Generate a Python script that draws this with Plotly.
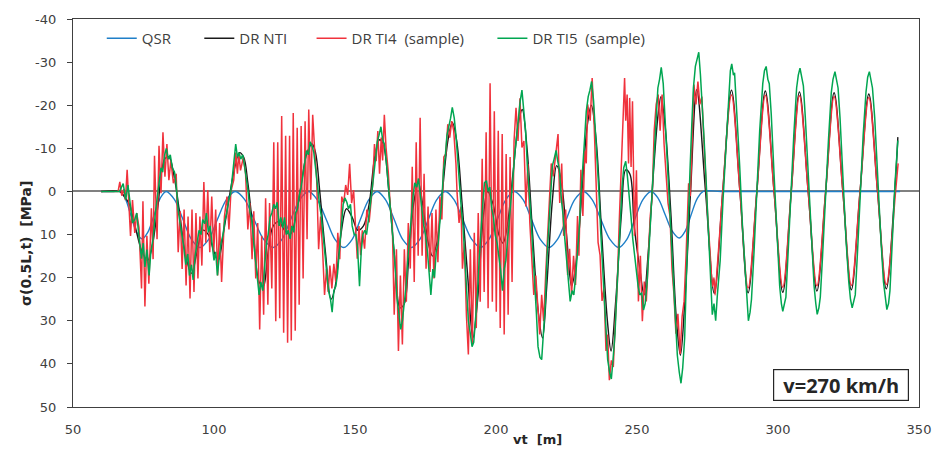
import plotly.graph_objects as go

# ---------------- data ----------------
qsr_x = [60, 64, 66.5, 68.5, 70.5, 72.5, 74.5, 76.6, 78.75, 80.9, 83,
         86, 89, 92, 95, 98.1, 101.2, 104.4, 107.5,
         110.9, 114.2, 117.6, 121, 124.1, 127.2, 130.4, 133.5,
         136.6, 139.8, 142.9, 146, 149, 151.9, 154.9, 157.8,
         160.8, 163.9, 166.9, 170, 173, 176, 179, 182,
         185.1, 188.2, 191.4, 194.5, 197.5, 200.5, 203.5, 206.5,
         209.6, 212.6, 215.7, 218.8, 221.8, 224.9, 227.9, 231,
         234.1, 237.2, 240.4, 243.5, 246.4, 249.2, 252.1, 255,
         257.5, 260, 262.5, 265, 267.1, 269.2, 271.4, 273.5, 280, 343.3]
qsr_y = [0, 0, 0, 1.6, 5.5, 9.4, 11, 9.4, 5.5, 1.6, 0,
         1.9, 6.5, 11.1, 13, 11.1, 6.5, 1.9, 0,
         1.9, 6.5, 11.1, 13, 11.1, 6.5, 1.9, 0,
         1.9, 6.5, 11.1, 13, 11.1, 6.5, 1.9, 0,
         1.9, 6.5, 11.1, 13, 11.1, 6.5, 1.9, 0,
         1.9, 6.5, 11.1, 13, 11.1, 6.5, 1.9, 0,
         1.9, 6.5, 11.1, 13, 11.1, 6.5, 1.9, 0,
         1.9, 6.5, 11.1, 13, 11.1, 6.5, 1.9, 0,
         1.6, 5.4, 9.2, 10.8, 9.2, 5.4, 1.6, 0, 0, 0]

nti_x = [60, 66.5, 68, 70, 72, 74.5, 76.5, 78, 80, 82.5, 84, 86, 88, 90, 92, 94,
         96, 98, 100, 101.5, 103.5, 105.5, 107.5, 109, 110.5, 112, 114, 116,
         117.5, 119, 121, 123, 125, 127, 129, 131, 133, 134.8, 136, 137.5,
         139.5, 141.5, 143, 145, 147, 149, 151, 153, 155, 157, 158.7, 160,
         162, 164, 166, 167.5, 169, 171, 172.5, 174, 176, 177.5, 179, 181,
         183, 184.5, 186, 188, 190, 191.8, 193.5, 195.5, 197, 199, 201,
         202.5, 204, 206, 208, 209.3, 211, 213, 215, 216.5, 218, 220, 221.5,
         223, 225, 226.8, 228.5, 230.5, 232.3, 233.8, 235.5, 237.5, 239.5,
         240.8, 242.5, 244.5, 246, 247.5, 249, 251, 252.5, 254, 256, 257.5,
         258.5, 260, 262, 264, 265.4, 267, 269, 271.2, 274.3, 277.4, 280.4,
         283.5, 286.5, 289.4, 292.5, 295.5, 298.6, 301.7, 304.7, 307.6,
         310.7, 313.8, 316.9, 319.9, 323, 326, 329.1, 332.2, 335.3, 338.4,
         341.4, 342.5]
nti_y = [0, 0, 1, 3, 8, 14, 16, 13, 4, -7.5, -8, -3, 6, 15, 19, 14,
         9, 10, 14, 16, 9, 1, -6, -9, -8, -2, 10, 21,
         22, 15, 8, 7, 9, 10, 6, -2, -9, -11, -9, 0,
         14, 25, 22, 10, 4, 6, 9, 8, 3, -8, -12, -11,
         0, 15, 27, 26, 16, 2, -2, 3, 12, 15, 12, 0,
         -12, -16, -12, 3, 20, 34, 25, 6, 0, 3, 10,
         12, 8, -4, -16, -19, -10, 10, 28, 34, 22, 2, -6,
         -3, 10, 22, 16, 0, -15, -20, -12, 10, 30,
         37, 25, 5, -5, -4, 8, 18, 24, 14, -6, -18,
         -22, -15, 5, 30, 38, 25, 0, -23.6, 0, 23.6, 0,
         -23.5, 0, 23.5, 0, -23.3, 0, 23.4, 0, -23.1,
         0, 23.1, 0, -22.9, 0, 22.8, 0, -22.6, 0, 22.6,
         0, -12.6]

# DR TI4 (sample): spiky part
ti4_x = [60, 66, 66.6, 67.3, 68.0, 68.6, 69.2, 69.9, 70.4, 71.1, 71.9, 72.6, 73.4,
         74.3, 74.8, 75.5, 76.2, 76.9, 77.8, 78.4, 78.9, 79.8, 80.5, 81.2, 81.9,
         82.6, 83.3, 84.0, 84.7, 85.6, 86.6, 87.3, 88.0, 88.7, 89.4, 90.1, 90.8,
         91.5, 92.2, 92.9, 93.6, 94.3, 95.0, 95.7, 96.4, 97.1, 97.8, 98.5, 99.2,
         99.9, 100.6, 101.3, 102.0, 102.7, 103.7, 104.6, 105.3, 106.0, 107.0,
         107.7, 108.3, 108.8, 109.4, 110.4, 111.2, 112.0, 112.7, 113.5, 114.1,
         114.8, 115.5, 116.2, 116.9, 117.6, 118.3, 119.1, 119.7, 120.5, 121.2,
         121.9, 122.6, 123.3, 124.0, 124.7, 125.4, 126.1, 126.8, 127.4, 128.1,
         128.8, 129.5, 130.2, 130.9, 131.6, 132.3, 133.0, 133.6, 134.3, 135.0,
         135.7, 136.4, 137.1, 137.8, 138.5, 139.2, 139.9, 140.5, 141.1, 141.8,
         142.5, 143.2, 143.9, 144.6, 145.3, 146.0, 146.7, 147.4, 148.1, 148.8,
         149.5, 150.2, 150.8, 151.4, 152.0, 152.6, 153.4, 154.2, 155.0, 155.6,
         156.3, 156.9, 157.5, 158.1, 158.7, 159.3, 159.8, 160.4, 161.0, 161.8,
         162.5, 163.2, 163.9, 164.7, 165.4, 166.1, 166.8, 167.5, 168.2, 168.9,
         169.6, 170.3, 171.0, 171.7, 172.4, 173.1, 173.8, 174.5, 175.2, 175.9,
         176.6, 177.3, 178.0, 178.7, 179.4, 180.1, 180.8, 181.5, 182.2, 182.9,
         183.6, 184.3, 185.0, 185.8, 186.2, 186.9, 187.6, 188.1, 188.8, 189.5,
         190.2, 190.9, 191.6, 192.3, 193.0, 193.7, 194.4, 195.1, 195.8, 196.5,
         197.2, 197.9, 198.7, 199.4, 200.1, 200.8, 201.5, 202.2, 202.9, 203.6,
         204.3, 205.0, 205.7, 206.4, 207.1, 207.8, 208.5, 209.2, 209.9, 210.6,
         211.3, 212.0, 212.7, 213.4, 214.1, 214.8, 215.5, 216.2, 216.9, 217.6,
         218.4, 219.6, 220.3, 221.2, 222.0, 222.6, 223.3, 224.0, 224.7, 225.4,
         226.1, 226.8, 227.5, 228.2, 228.9, 229.4, 230.1, 230.8, 231.5, 232.0,
         232.5, 233.4, 234.1, 234.8, 235.5, 236.2, 236.9, 237.6, 238.3, 239.0,
         239.6, 240.2, 240.9, 241.6, 242.3, 243.0, 243.7, 244.4, 245.1, 245.6,
         246.0, 246.5, 247.0, 247.4, 247.9, 248.4, 249.1, 249.8, 250.5, 251.2,
         251.9, 252.6, 253.3, 254.0, 254.7, 255.4, 256.1, 256.8, 257.5, 258.2,
         258.9, 259.6, 260.3, 261.0, 261.7, 262.4, 263.1, 263.8, 264.5, 265.3,
         266.0, 266.7, 267.4, 268.3, 268.9, 269.5, 270.2, 270.9, 271.6, 272.3,
         273.0, 273.7]
ti4_y = [0, 0, -2.2, 1.0, -0.5, 2.0, -5.0, 2.7, 10.3, 2.0, 9.6, 5.0, 8.4,
         22.5, 2.3, 26.7, 10.3, 21.4, 3.9, 15.7, -8.3, 11.1, -10.6, 0.4, -13.7,
         -3.4, -11.0, -2.6, -7.2, -1.9, -4.1, 14.1, 4.6, 18.0, 4.2, 21.8, 5.8,
         24.8, 4.2, 23.3, 5.0, 20.2, 5.8, 17.2, -2.2, 11.9, -0.3, 14.1, 1.2,
         14.1, 4.2, 19.5, 7.3, 21.0, 5.8, 1.2, 8.8, 0.0, -2.6,
         -9.0, -4.1, -8.7, -4.9, -7.9, -4.1, 8.8, 2.7, 15.7, 4.6,
         20.2, 7.3, 32.0, 10.3, 28.6, 1.6, 26.3, 2.7, 22.5, -11.4,
         30.1, -11.4, 29.4, -17.5, 32.8, -12.9, 35.1, -12.9, 34.6, -18.2,
         32.3, -14.8, 26.3, -15.2, 20.2, -16.3, 11.1, -19.0, 1.9, -17.8,
         -9.5, -3.0, 13.4, 5.8, 13.4, 24.0, 18.0, 23.3, 17.2, 22.5,
         16.8, 21.0, 9.6, 15.7, 1.2, 2.7, -1.5, 0.8, -6.4, 2.7,
         -0.3, 8.0, 15.6, 8.0, 14.8, 9.0, 13.3, 4.2, 7.2, 3.0,
         -1.9, -11.0, -7.0, -14.0, -4.1, -12.5, -7.2, -17.8, -10.2, -4.5,
         3.5, 6.5, 28.6, 13.4, 37.0, 19.5, 35.5, 13.4, 25.6, 7.3,
         17.9, -5.7, 21.0, -11.4, 14.9, -17.1, 14.9, -4.1, 17.9, 3.5,
         18.7, 5.0, 20.2, 4.2, 16.4, 1.2, 6.5, -8.0, -8.7, -15.6,
         -12.5, -16.3, -14.1, -6.4, 0.4, 7.3, 3.5, 17.9, 11.9, 28.6,
         37.8, 13.4, 35.5, 9.6, 31.7, 5.0, 25.6, -7.6, 23.3, -13.7,
         27.1, -25.1, 25.6, -18.6, 27.9, -14.1, 31.7, -13.3, 33.2, -8.7,
         28.6, -8.0, 21.0, -11.7, -19.4, -11.7, -21.6, -10.2, -11.7, 3.5,
         -6.4, 7.3, 16.4, 24.0, 19.5, 27.9, 33.2, 24.0, 30.1, 19.5,
         10.0, -6.5, -3.5, -8.8, -13.3, 2.7, -6.5, 10.3, 4.2, 19.4,
         13.3, 24.0, 14.9, 21.7, 5.7, 14.9, -5.0, 5.7, -9.5, -6.5,
         -20.2, -16.4, -26.3, -15.6, -1.1, 11.8, 14.8, 25.4, 22.5, 37.0,
         33.2, 43.8, 39.2, 40.7, 30.1, 21.7, 7.2, -6.5, -18.7, -26.3,
         -16.4, -22.5, -6.5, -21.7, -5.7, -20.9, 10.3, -4.9, 25.5, 14.9,
         30.1, 20.9, 25.5, 14.9, 5.7, 1.1, -14.1, -20.2, -22.5, -14.1,
         -22.5, -11.0, -5.0, 2.7, 5.7, 17.9, 23.9, 33.0, 28.4, 37.7,
         29.0, 25.5, 14.9, -1.9, 1.1, -11.0, -24.8, -20.2, -25.5, -20.2,
         -22.0, -12.0]

# DR TI4 (sample): smooth tail
ti4_tail_x = [273.7, 275.0, 276.0, 276.8, 277.3, 277.7, 278.3, 279.3, 280.4,
              283.5, 286.5, 289.4, 292.5, 295.5, 298.6, 301.7, 304.7, 307.6,
              310.7, 313.8, 316.9, 319.9, 323.0, 326.0, 329.1, 332.2, 335.3,
              338.4, 341.7, 342.6]
ti4_tail_y = [-12.0, 5.0, 15.0, 22.0, 20.0, 24.0, 19.0, 10.0, 0.0,
              -22.4, 0.0, 22.4, 0.0, -22.3, 0.0, 22.2, 0.0, -22.2,
              0.0, 21.9, 0.0, -22.0, 0.0, 21.8, 0.0, -21.8, 0.0,
              21.6, 0.0, -6.5]

ti5_x = [60, 66.5, 67.2, 67.8, 68.7, 69.5, 70.4, 71.1, 71.9, 72.6, 73.3, 74.3,
         74.9, 75.5, 76.2, 77, 77.6, 78.4, 79.2, 79.8, 80.5, 81.2, 81.8, 82.5,
         83.1, 83.8, 84.5, 85.2, 86, 86.6, 87.3, 87.9, 88.6, 89.3, 90, 90.7,
         91.3, 92, 92.6, 93.3, 94, 94.7, 95.4, 96, 96.7, 97.3, 98, 98.6, 99.3,
         100, 100.6, 101.2, 101.9, 102.5, 103.2, 103.8, 104.5, 105.2, 105.9,
         106.5, 107.1, 107.7, 108.3, 108.9, 109.5, 110.2, 110.8, 111.5, 112.1,
         112.8, 113.5, 114.1, 114.8, 115.4, 116, 116.6, 117.3, 117.9, 118.6,
         119.2, 119.9, 120.5, 121.2, 121.8, 122.4, 123.1, 123.7, 124.4, 125,
         125.7, 126.3, 127, 127.6, 128.3, 128.9, 129.6, 130.2, 130.9, 131.5,
         132.2, 132.8, 133.5, 134.1, 134.8, 135.4, 136.1, 136.7, 137.4, 138,
         138.7, 139.3, 140, 140.6, 141.3, 141.9, 142.5, 143.2, 143.8, 144.5,
         145.1, 145.8, 146.4, 147.1, 147.7, 148.4, 149, 149.7, 150.3, 150.9,
         151.6, 152.2, 152.8, 153.5, 154.1, 154.7, 155.4, 156, 156.6, 157.3,
         157.9, 158.5, 159.2, 159.8, 160.4, 161.1, 161.7, 162.4, 163, 163.6,
         164.3, 164.9, 165.5, 166.2, 166.8, 167.4, 168.1, 168.7, 169.3, 170,
         170.6, 171.2, 171.9, 172.5, 173.1, 173.8, 174.4, 175, 175.7, 176.3,
         176.9, 177.6, 178.2, 178.8, 179.5, 180.1, 180.7, 181.4, 182, 182.6,
         183.3, 183.9, 184.5, 185.2, 185.8, 186.4, 187.1, 187.7, 188.3, 189,
         189.6, 190.2, 190.9, 191.5, 192.1, 192.8, 193.4, 194, 194.7, 195.3,
         195.9, 196.6, 197.2, 197.8, 198.5, 199.1, 199.7, 200.4, 201, 201.6,
         202.3, 202.9, 203.5, 204.2, 204.8, 205.4, 206.1, 206.7, 207.3, 208,
         208.6, 209.2, 209.9, 210.5, 211.1, 211.8, 212.4, 213, 213.7, 214.3,
         214.9, 215.6, 216.2, 216.8, 217.5, 218.1, 218.7, 219.4, 220, 220.6,
         221.3, 221.9, 222.5, 223.2, 223.8, 224.4, 225.1, 225.7, 226.3, 227,
         227.6, 228.2, 228.9, 229.5, 230.1, 230.8, 231.4, 232, 232.7, 233.3,
         233.9, 234.6, 235.2, 235.8, 236.5, 237.1, 237.7, 238.4, 239, 239.6,
         240.3, 240.9, 241.5, 242.2, 242.8, 243.4, 244.1, 244.7, 245.3, 246,
         246.6, 247.2, 247.9, 248.5, 249.1, 249.8, 250.4, 251, 251.7, 252.3,
         252.9, 253.6, 254.2, 254.8, 255.5, 256.1, 256.7, 257.4, 258, 258.6,
         259.3, 259.9, 260.5, 261.2, 261.8, 262.4, 263.1, 263.7, 264.3, 265,
         265.6, 266.2, 266.9, 267.5, 268.1, 268.8, 269.4, 270, 270.7, 271.3,
         271.9, 272.5, 273.2, 273.8, 274.4, 275.1, 275.7, 276.3, 276.7, 277.3,
         277.9, 278.5, 279.5, 280.5, 281.5, 282.5, 283.1, 283.6, 284.2, 284.6,
         285.3, 286.4, 287.4, 288.4, 289, 289.5, 290.1, 290.6, 291.5, 292.5,
         293.5, 294.6, 295.2, 295.8, 296.4, 296.9, 297.6, 298.6, 299.6, 300.6,
         301.2, 301.7, 302.3, 302.8, 303.6, 304.6, 305.6, 306.6, 307.2, 307.8,
         308.4, 309, 309.7, 310.8, 311.8, 312.8, 313.4, 313.9, 314.5, 315,
         315.8, 316.8, 317.9, 318.9, 319.5, 320.2, 320.8, 321.3, 322, 323,
         324.1, 325.1, 325.7, 326.3, 326.9, 327.4, 328.2, 329.2, 330.2, 331.2,
         331.8, 332.4, 333, 333.5, 334.3, 335.3, 336.4, 337.4, 338, 338.6,
         339.2, 339.7, 340.5, 341.5, 342.5]
ti5_y = [0, 0, -1.0, -1.8, 1.9, -1.5, 3.5, 7.3, 6.5, 5.0, 10.0, 15.6,
         12.0, 17.5, 13.5, 19.5, 14.0, 11.0, 5.0, 2.0, -2.5, -5.5, -4.5, -8.5,
         -10.0, -7.5, -8.5, -5.5, -4.5, -1.5, 4.5, 7.0, 10.5, 13.0, 17.0, 14.5,
         19.5, 17.0, 20.5, 15.0, 12.0, 9.0, 10.0, 6.5, 7.5, 5.0, 9.5, 8.0, 12.0,
         16.0, 14.0, 19.5, 15.0, 12.0, 10.0, 7.0, 5.0, 2.0, 0.5,
         -4.0, -7.0, -11.0, -8.0, -9.0, -7.5, -8.5, -6.0, -2.5, 0.0,
         5.0, 7.0, 12.0, 17.0, 20.0, 24.0, 21.0, 23.0, 18.0, 12.0,
         10.0, 6.0, 5.0, 3.0, 4.0, 2.5, 8.0, 6.0, 8.5, 6.0,
         10.0, 9.0, 11.0, 8.0, 9.5, 5.0, 4.0, 1.0, -1.0, -3.5,
         -6.0, -9.5, -8.5, -11.5, -10.5, -9.0, -5.0, -1.0, 3.0, 5.5,
         10.0, 13.0, 18.0, 23.0, 25.0, 28.0, 23.0, 22.0, 19.0, 14.0,
         8.0, 3.0, 1.5, 2.5, 4.0, 3.0, 8.0, 10.0, 10.0, 13.0,
         22.0, 14.0, 10.0, 9.0, 10.0, 7.0, 4.0, 0.0, -3.5, -8.0,
         -11.5, -13.0, -15.0, -12.0, -11.0, -7.0, -2.5, 3.0, 6.0, 12.0,
         18.0, 25.0, 28.0, 32.0, 30.0, 26.0, 22.0, 16.0, 11.0, 6.0,
         1.0, -2.0, -1.0, -3.0, 1.0, 4.0, 8.0, 10.0, 14.0, 19.0,
         24.0, 18.0, 20.0, 14.0, 12.0, 7.0, 3.0, -5.0, -8.0, -13.0,
         -15.0, -17.0, -19.5, -17.0, -13.0, -7.0, -2.0, 4.0, 8.0, 16.0,
         22.0, 30.0, 33.0, 36.0, 35.0, 29.0, 24.0, 16.0, 8.0, 3.0,
         -2.0, -2.5, 0.0, -1.0, 4.0, 6.0, 10.0, 12.0, 15.0, 18.0,
         23.0, 18.0, 16.0, 11.0, 7.0, 1.0, -4.0, -9.0, -13.0, -18.0,
         -21.0, -23.5, -19.0, -14.0, -6.0, 0.0, 6.0, 13.0, 20.0, 28.0,
         36.0, 38.5, 39.0, 33.0, 26.0, 15.0, 8.0, 0.0, -6.0, -7.5,
         -9.5, -7.0, -5.0, 2.0, 5.5, 11.0, 16.0, 22.0, 25.5, 23.0,
         24.0, 20.0, 14.0, 9.0, 1.0, -5.0, -12.0, -18.5, -22.0, -23.5,
         -25.5, -21.0, -15.0, -8.0, 0.0, 9.0, 17.0, 25.5, 32.0, 39.0,
         42.0, 43.5, 39.0, 33.0, 24.0, 15.0, 6.0, -1.0, -5.5, -7.0,
         -3.5, 2.0, 6.0, 11.0, 15.0, 19.0, 22.0, 24.0, 23.5, 27.5,
         26.0, 21.0, 14.0, 7.0, -2.0, -11.0, -18.0, -24.0, -26.0, -28.8,
         -25.0, -18.0, -10.0, -1.0, 6.0, 14.0, 23.0, 31.0, 38.0, 42.0,
         44.5, 41.0, 34.0, 20.0, 7.0, -5.0, -15.0, -24.0, -29.0, -31.0,
         -32.3, -27.0, -20.0, -12.0, -4.0, 5.0, 13.0, 21.0, 28.6, 26.0,
         30.0, 24.0, 16.0, 2.0, -10.0, -20.0, -28.0, -29.6, -27.0, -27.5,
         -20.0, -6.0, 8.0, 20.0, 27.0, 30.0, 28.0, 25.0, 14.0, 0.0,
         -14.0, -25.0, -28.0, -29.0, -26.0, -25.0, -18.0, -4.0, 10.0, 22.0,
         26.0, 27.8, 26.0, 24.5, 14.0, 0.0, -13.0, -24.0, -27.0, -28.6,
         -26.0, -24.5, -17.0, -3.0, 11.0, 22.0, 26.0, 28.5, 27.0, 24.5,
         15.0, 1.0, -12.0, -23.0, -26.0, -27.8, -26.0, -24.0, -17.0, -3.0,
         11.0, 21.0, 25.0, 27.0, 25.5, 24.0, 14.0, 0.0, -13.0, -23.0,
         -26.5, -27.8, -26.0, -24.0, -17.0, -3.0, 10.0, 21.0, 25.0, 27.4,
         26.0, 23.0, 12.0, -2.0, -11.8]

x_ticks = [50, 100, 150, 200, 250, 300, 350]
x_tick_labels = ["50", "100", "150", "200", "250", "300", "350"]
y_ticks = [-40, -30, -20, -10, 0, 10, 20, 30, 40, 50]
y_tick_labels = ["-40", "-30", "-20", "-10", "0", "10", "20", "30", "40", "50"]

series_names = ["QSR", "DR NTI", "DR TI4  (sample)", "DR TI5  (sample)"]
x_title = "vt  [m]"
y_title = "σ(0.5L,t)  [MPa]"
speed_label = "v=270 km/h"

# ---------------- figure ----------------
C_QSR = "#1f7fc8"
C_NTI = "#1a1a1a"
C_TI4 = "#f0323c"
C_TI5 = "#00a651"

NB = "\u00a0"
legend_labels = [series_names[0] + NB * 6,
                 series_names[1].replace(" ", NB) + NB * 5,
                 series_names[2].replace(" ", NB) + NB * 6,
                 series_names[3].replace(" ", NB)]

fig = go.Figure()
fig.add_trace(go.Scatter(x=qsr_x, y=qsr_y, mode="lines", name=legend_labels[0],
                         line=dict(color=C_QSR, width=1.4, shape="spline", smoothing=1)))
fig.add_trace(go.Scatter(x=nti_x, y=nti_y, mode="lines", name=legend_labels[1],
                         line=dict(color=C_NTI, width=1.4, shape="spline", smoothing=1)))
fig.add_trace(go.Scatter(x=ti4_x, y=ti4_y, mode="lines", name=legend_labels[2],
                         legendgroup="ti4",
                         line=dict(color=C_TI4, width=1.5)))
fig.add_trace(go.Scatter(x=ti4_tail_x, y=ti4_tail_y, mode="lines", name=legend_labels[2],
                         legendgroup="ti4", showlegend=False,
                         line=dict(color=C_TI4, width=1.5, shape="spline", smoothing=1)))
fig.add_trace(go.Scatter(x=ti5_x, y=ti5_y, mode="lines", name=legend_labels[3],
                         line=dict(color=C_TI5, width=1.5)))

W, H = 943, 451
L, R, T, B = 73, 17, 13, 44
pw = W - L - R
ph = H - T - B

def px_to_paper_x(px):
    return (px - L) / pw

def px_to_paper_y(py):
    return 1 - (py - T) / ph

fig.update_layout(
    width=W, height=H,
    margin=dict(l=L, r=R, t=T, b=B, pad=0),
    paper_bgcolor="white", plot_bgcolor="white",
    font=dict(family="DejaVu Sans", size=13, color="#404040"),
    showlegend=True,
    legend=dict(orientation="h", x=px_to_paper_x(102), y=px_to_paper_y(16),
                xanchor="left", yanchor="top", bgcolor="rgba(0,0,0,0)",
                font=dict(family="Open Sans", size=15, color="#404040"),
                itemwidth=30, tracegroupgap=0),
    xaxis=dict(range=[50, 350], tickvals=x_ticks, ticktext=x_tick_labels,
               showgrid=False, zeroline=False,
               showline=True, linecolor="#404040", linewidth=1.2, mirror=True,
               ticks="", ticklabelstandoff=10,
               tickfont=dict(family="DejaVu Sans", size=13, color="#404040")),
    yaxis=dict(range=[50, -40], tickvals=y_ticks, ticktext=y_tick_labels,
               showgrid=False,
               zeroline=True, zerolinecolor="#808080", zerolinewidth=2,
               showline=True, linecolor="#404040", linewidth=1.2, mirror=True,
               ticks="outside", ticklen=5, tickcolor="#404040", tickwidth=1,
               ticklabelstandoff=8,
               tickfont=dict(family="DejaVu Sans", size=13, color="#404040")),
    annotations=[
        dict(text="<b>" + y_title.replace("  ", NB + NB) + "</b>", xref="paper", yref="paper",
             x=px_to_paper_x(25), y=px_to_paper_y(241), textangle=-90,
             xanchor="center", yanchor="middle", showarrow=False,
             font=dict(family="DejaVu Sans", size=14, color="#262626")),
        dict(text="<b>" + x_title.replace("  ", NB + NB) + "</b>", xref="paper", yref="paper",
             x=px_to_paper_x(541), y=px_to_paper_y(440),
             xanchor="center", yanchor="middle", showarrow=False,
             font=dict(family="DejaVu Sans", size=13, color="#262626")),
        dict(text="<b>" + speed_label + "</b>", xref="paper", yref="paper",
             x=px_to_paper_x(916), y=px_to_paper_y(401),
             xanchor="right", yanchor="bottom", showarrow=False,
             width=130, height=26, borderpad=2,
             bordercolor="#262626", borderwidth=1.2, bgcolor="white",
             font=dict(family="Open Sans", size=20, color="#262626")),
    ],
)

fig.write_html("out.html", config={"displayModeBar": False},
               post_script="document.body.style.margin='0px';document.body.style.padding='0px';")
